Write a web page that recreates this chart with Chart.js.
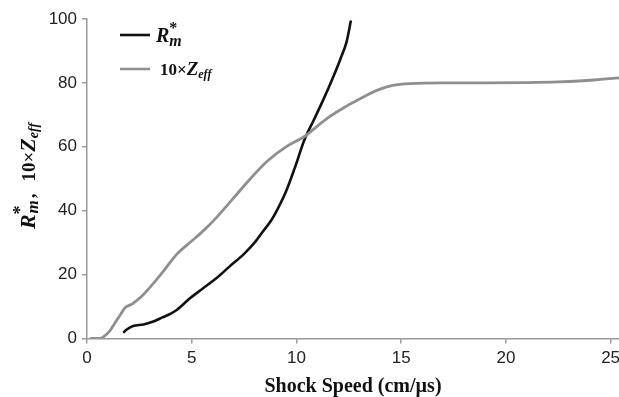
<!DOCTYPE html>
<html>
<head>
<meta charset="utf-8">
<script src="https://cdn.jsdelivr.net/npm/chart.js@4/dist/chart.umd.min.js"></script>
<style>
  html, body { margin: 0; padding: 0; background: #fff; }
  #wrap { width: 619px; height: 397px; position: relative; }
</style>
</head>
<body>
<div id="wrap"><canvas id="c"></canvas></div>
<script>
// shock speed (cm/us) vs R*_m
let rmX = [1.73, 1.9, 2.2, 2.7, 3.2, 3.6, 4.0, 4.3, 4.9, 5.5, 6.2, 6.8, 7.5, 8.0, 8.4, 8.8, 9.1, 9.5, 9.9, 10.4, 10.8, 11.3, 11.7, 12.1, 12.4, 12.6];
let rmY = [1.8, 2.8, 3.9, 4.4, 5.4, 6.6, 7.8, 9.0, 12.5, 15.5, 19, 22.5, 26.5, 30, 33.5, 37, 40.5, 46, 53, 62.5, 68, 75, 81, 87.5, 93, 99.5];

// shock speed vs 10 x Z_eff
let zX = [0.14, 0.6, 0.8, 1.1, 1.35, 1.6, 1.8, 2.2, 2.7, 3.2, 3.7, 4.3, 5.0, 5.6, 6.2, 7.0, 7.8, 8.6, 9.5, 10.4, 11.0, 11.6, 12.2, 12.8, 13.4, 13.9, 14.6, 15.4, 17, 19, 21, 22.5, 23.5, 24.5, 25.4];
let zY = [0, 0, 0.6, 2.5, 5, 7.5, 9.5, 11, 13.8, 17.5, 21.5, 26.5, 30.5, 34, 38, 44, 50, 55.5, 60, 63.3, 66.5, 69.5, 72, 74.2, 76.3, 77.8, 79.2, 79.8, 80, 80, 80.1, 80.3, 80.6, 81.1, 81.6];

let xTicks = [0, 5, 10, 15, 20, 25];
let yTicks = [0, 20, 40, 60, 80, 100];

function pts(xs, ys) {
  return xs.map((x, i) => ({ x: x, y: ys[i] }));
}

function drawRich(ctx, parts, x, y) {
  let w = 0;
  parts.forEach(p => { ctx.font = p.font; w += ctx.measureText(p.text).width + (p.gap || 0); });
  let cx = x - w / 2;
  parts.forEach(p => {
    ctx.font = p.font;
    ctx.fillText(p.text, cx + (p.dx || 0), y + (p.dy || 0));
    cx += ctx.measureText(p.text).width + (p.gap || 0);
  });
}

function drawLeft(ctx, parts, x, y) {
  let cx = x;
  parts.forEach(p => {
    ctx.font = p.font;
    ctx.fillText(p.text, cx + (p.dx || 0), y + (p.dy || 0));
    cx += ctx.measureText(p.text).width + (p.gap || 0);
  });
}

const SERIF = '"Liberation Serif", "DejaVu Serif", serif';
const bi = s => `italic bold ${s}px ${SERIF}`;
const b = s => `bold ${s}px ${SERIF}`;

const extras = {
  id: "extras",
  afterDraw(chart) {
    let ctx = chart.ctx;
    let area = chart.chartArea;
    ctx.save();
    ctx.fillStyle = "#111";
    ctx.textBaseline = "alphabetic";

    // x title
    ctx.font = b(20);
    ctx.textAlign = "center";
    ctx.fillText("Shock Speed (cm/\u00b5s)", (area.left + area.right) / 2, 392);
    ctx.textAlign = "left";

    // y title (rotated)
    ctx.save();
    ctx.translate(35, 176);
    ctx.rotate(-Math.PI / 2);
    drawRich(ctx, [
      { text: "R", font: bi(22) },
      { text: "*", font: b(18), dy: -9, gap: -8 },
      { text: "m", font: bi(17), dy: 3, gap: 2 },
      { text: ",", font: b(19), gap: 12 },
      { text: "10\u00d7", font: b(19) },
      { text: "Z", font: bi(22) },
      { text: "eff", font: bi(14), dy: 3 }
    ], 0, 0);
    ctx.restore();

    // legend
    ctx.lineWidth = 2.6;
    ctx.strokeStyle = "#111";
    ctx.beginPath(); ctx.moveTo(120, 35); ctx.lineTo(150, 35); ctx.stroke();
    ctx.strokeStyle = "#8f8f8f";
    ctx.beginPath(); ctx.moveTo(120, 69); ctx.lineTo(150, 69); ctx.stroke();

    drawLeft(ctx, [
      { text: "R", font: bi(20) },
      { text: "*", font: b(16), dy: -9, gap: -8 },
      { text: "m", font: bi(16), dy: 4 }
    ], 156, 42);
    drawLeft(ctx, [
      { text: "10\u00d7", font: b(17) },
      { text: "Z", font: bi(19) },
      { text: "eff", font: bi(12), dy: 3 }
    ], 160, 75);
    ctx.restore();
  }
};

new Chart(document.getElementById("c"), {
  type: "scatter",
  data: {
    datasets: [
      {
        label: "10xZeff",
        data: pts(zX, zY),
        showLine: true,
        borderColor: "#8f8f8f",
        borderWidth: 2.8,
        pointRadius: 0,
        cubicInterpolationMode: "monotone"
      },
      {
        label: "Rm*",
        data: pts(rmX, rmY),
        showLine: true,
        borderColor: "#111",
        borderWidth: 2.6,
        pointRadius: 0,
        cubicInterpolationMode: "monotone"
      }
    ]
  },
  options: {
    responsive: true,
    maintainAspectRatio: false,
    animation: false,
    layout: { padding: { top: 19, right: 0, left: 0, bottom: 0 } },
    plugins: {
      legend: { display: false },
      tooltip: { enabled: false }
    },
    scales: {
      x: {
        type: "linear",
        min: 0,
        max: 25.4,
        afterBuildTicks: s => { s.ticks = xTicks.map(v => ({ value: v })); },
        afterFit: s => { s.height = 58.5; s.paddingRight = 0; s.paddingLeft = 0; },
        ticks: {
          color: "#222",
          font: { family: '"Liberation Sans", Arial, sans-serif', size: 17 },
          padding: 5,
          maxRotation: 0
        },
        grid: { drawOnChartArea: false, drawTicks: true, tickLength: 5, color: "#9a9a9a", lineWidth: 1.5 },
        border: { color: "#9a9a9a", width: 1.5 }
      },
      y: {
        min: 0,
        max: 100,
        afterBuildTicks: s => { s.ticks = yTicks.map(v => ({ value: v })); },
        afterFit: s => { s.width = 87; s.paddingTop = 0; s.paddingBottom = 0; },
        ticks: {
          color: "#222",
          font: { family: '"Liberation Sans", Arial, sans-serif', size: 17 },
          padding: 5
        },
        grid: { drawOnChartArea: false, drawTicks: true, tickLength: 5, color: "#9a9a9a", lineWidth: 1.5 },
        border: { color: "#9a9a9a", width: 1.5 }
      }
    }
  },
  plugins: [extras]
});
</script>
</body>
</html>
